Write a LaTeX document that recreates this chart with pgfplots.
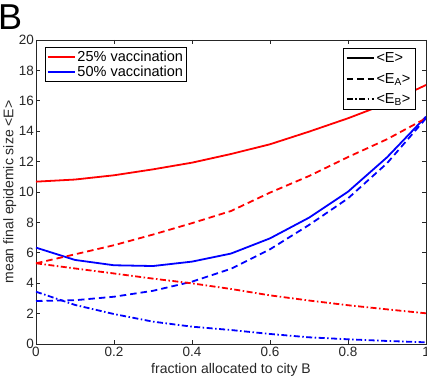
\documentclass[border=0pt]{standalone}
\usepackage{fontspec}
\setmainfont{Liberation Sans}
\usepackage{pgfplots}
\pgfplotsset{compat=1.18}
\definecolor{axgray}{gray}{0.15}

\pgfplotsset{
  base/.style={
    width=390pt, height=304pt, scale only axis,
    xmin=0, xmax=1, ymin=0, ymax=20,
  },
  dashedm/.style={dash pattern=on 6.5pt off 4pt},
  dashdotm/.style={dash pattern=on 6pt off 2.5pt on 1.5pt off 2.5pt},
  legline/.style={
    legend image code/.code={\draw[##1] (0pt,0pt) -- (27pt,0pt);},
  },
}

\begin{document}
\begin{tikzpicture}
\path[use as bounding box] (-36pt,-35pt) rectangle (391pt,344pt);
\begin{axis}[
  base,
  axis line style={axgray, line width=0.6pt},
  every tick/.style={axgray, line width=0.6pt},
  major tick length=4pt,
  tick align=inside,
  xtick={0,0.2,...,1}, ytick={0,2,...,20},
  /pgf/number format/assume math mode=true,
  tick label style={font=\fontsize{13.5}{15}\selectfont, text=axgray},
  yticklabel style={inner sep=2pt},
  xlabel={fraction allocated to city B},
  ylabel={mean final epidemic size <E>},
  label style={font=\fontsize{14}{16}\selectfont, text=axgray},
  xlabel style={at={(axis description cs:0.5,-0.085)}, anchor=center},
  ylabel style={at={(axis description cs:-0.067,0.5)}, anchor=center},
  legline,
  legend style={at={(axis description cs:0.023,0.977)}, anchor=north west,
    draw=black, font=\fontsize{14.5}{16}\selectfont,
    inner sep=1.5pt, row sep=-1pt},
  legend cell align=left,
]
% 25% vaccination
\addplot[red, line width=1.8pt] coordinates {
  (0,10.68) (0.1,10.82) (0.2,11.1) (0.3,11.49) (0.4,11.93) (0.5,12.5)
  (0.6,13.14) (0.7,13.97) (0.8,14.85) (0.9,15.83) (1,17.04)};
\addlegendentry{25\% vaccination}
% 50% vaccination
\addplot[blue, line width=1.8pt] coordinates {
  (0,6.34) (0.1,5.53) (0.2,5.18) (0.3,5.13) (0.4,5.42) (0.5,5.95)
  (0.6,6.95) (0.7,8.31) (0.8,10.02) (0.9,12.28) (1,14.96)};
\addlegendentry{50\% vaccination}
\addplot[red, dashedm, line width=1.8pt, forget plot] coordinates {
  (0,5.31) (0.1,5.9) (0.2,6.5) (0.3,7.2) (0.4,7.95) (0.5,8.75)
  (0.6,9.96) (0.7,11.05) (0.8,12.3) (0.9,13.47) (1,14.85)};
\addplot[blue, dashedm, line width=1.8pt, forget plot] coordinates {
  (0,2.83) (0.1,2.88) (0.2,3.11) (0.3,3.5) (0.4,4.1) (0.5,4.95)
  (0.6,6.23) (0.7,7.83) (0.8,9.58) (0.9,11.89) (1,14.85)};
\addplot[red, dashdotm, line width=1.8pt, forget plot] coordinates {
  (0,5.31) (0.1,4.97) (0.2,4.64) (0.3,4.3) (0.4,3.99) (0.5,3.62)
  (0.6,3.2) (0.7,2.86) (0.8,2.55) (0.9,2.28) (1,2.02)};
\addplot[blue, dashdotm, line width=1.8pt, forget plot] coordinates {
  (0,3.44) (0.1,2.57) (0.2,1.97) (0.3,1.47) (0.4,1.14) (0.5,0.92)
  (0.6,0.66) (0.7,0.44) (0.8,0.31) (0.9,0.2) (1,0.11)};
\end{axis}
\begin{axis}[
  base, hide axis,
  legline,
  legend style={at={(axis description cs:0.972,0.974)}, anchor=north east,
    draw=black, font=\fontsize{14.5}{16}\selectfont,
    inner sep=2.5pt, row sep=5pt},
  legend cell align=left,
]
\addlegendimage{black, line width=1.8pt}
\addlegendentry{<E>}
\addlegendimage{black, dashedm, line width=1.8pt}
\addlegendentry{<E\textsubscript{A}>}
\addlegendimage{black, dashdotm, line width=1.8pt}
\addlegendentry{<E\textsubscript{B}>}
\end{axis}
\node[anchor=north west, inner sep=0pt, font=\fontsize{36}{36}\selectfont]
  at (-38pt,339pt) {B};
\end{tikzpicture}
\end{document}
